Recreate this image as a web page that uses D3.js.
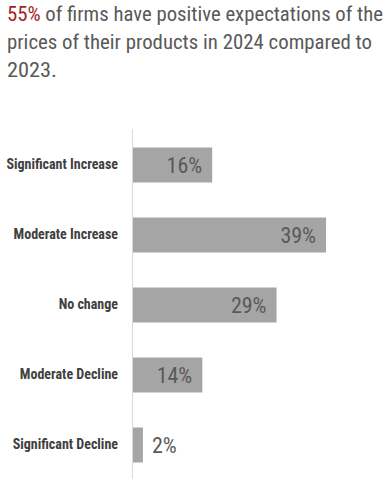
<!DOCTYPE html>
<html><head><meta charset="utf-8">
<script src="https://cdn.jsdelivr.net/npm/d3@7/dist/d3.min.js"></script>
<style>body{margin:0;background:#fff;}svg{display:block;}</style>
</head><body>
<script>
const categories = ["Significant Increase","Moderate Increase","No change","Moderate Decline","Significant Decline"];
const values = [16, 39, 29, 14, 2];
const titleHighlight = "55%";
const titleLines = [" of firms have positive expectations of the","prices of their products in 2024 compared to","2023."];

const W = 392, H = 493;
const svg = d3.select("body").append("svg").attr("width", W).attr("height", H);
const font = "'Liberation Sans Narrow','Arial Narrow','Roboto Condensed','DejaVu Sans Condensed',sans-serif";

// Title
const title = svg.append("g").attr("font-family", font).attr("font-size", 21).attr("fill", "#595959");
const lineY = [21, 49, 77];
const lineW = [376, 365, 50];
titleLines.forEach((l, i) => {
  const t = title.append("text").attr("x", 7).attr("y", lineY[i]);
  if (i === 0) t.append("tspan").attr("fill", "#a31f24").text(titleHighlight);
  t.append("tspan").text(l);
  t.attr("textLength", lineW[i]).attr("lengthAdjust", "spacingAndGlyphs");
});

const x0 = 133;
const x = d3.scaleLinear().domain([0, 40]).range([x0, x0 + 198]);
const y = d3.scaleBand().domain(categories).range([130, 480]).paddingInner(0.5).paddingOuter(0.25);

svg.append("g").selectAll("rect").data(values).join("rect")
  .attr("x", x(0)).attr("y", (d, i) => y(categories[i]))
  .attr("width", d => x(d) - x(0)).attr("height", y.bandwidth())
  .attr("fill", "#a5a5a5");

// axis line
svg.append("line").attr("x1", x0 - 0.5).attr("x2", x0 - 0.5).attr("y1", 129).attr("y2", 479)
  .attr("stroke", "#d9d9d9").attr("stroke-width", 1);

// category labels
const yAxis = d3.axisLeft(y).tickSize(0).tickPadding(14);
const ga = svg.append("g").attr("transform", `translate(${x0 - 1},0)`).call(yAxis);
ga.select(".domain").remove();
ga.selectAll("text").attr("font-family", font).attr("font-size", 14).attr("font-weight", "bold").attr("fill", "#404040");

// value labels
svg.append("g").selectAll("text").data(values).join("text")
  .attr("x", d => d < 5 ? x(d) + 9 : x(d) - 10)
  .attr("text-anchor", d => d < 5 ? "start" : "end")
  .attr("y", (d, i) => y(categories[i]) + y.bandwidth() / 2)
  .attr("dy", "0.36em")
  .attr("font-family", font).attr("font-size", 22).attr("fill", "#595959")
  .text(d => d + "%");
</script>
</body></html>
